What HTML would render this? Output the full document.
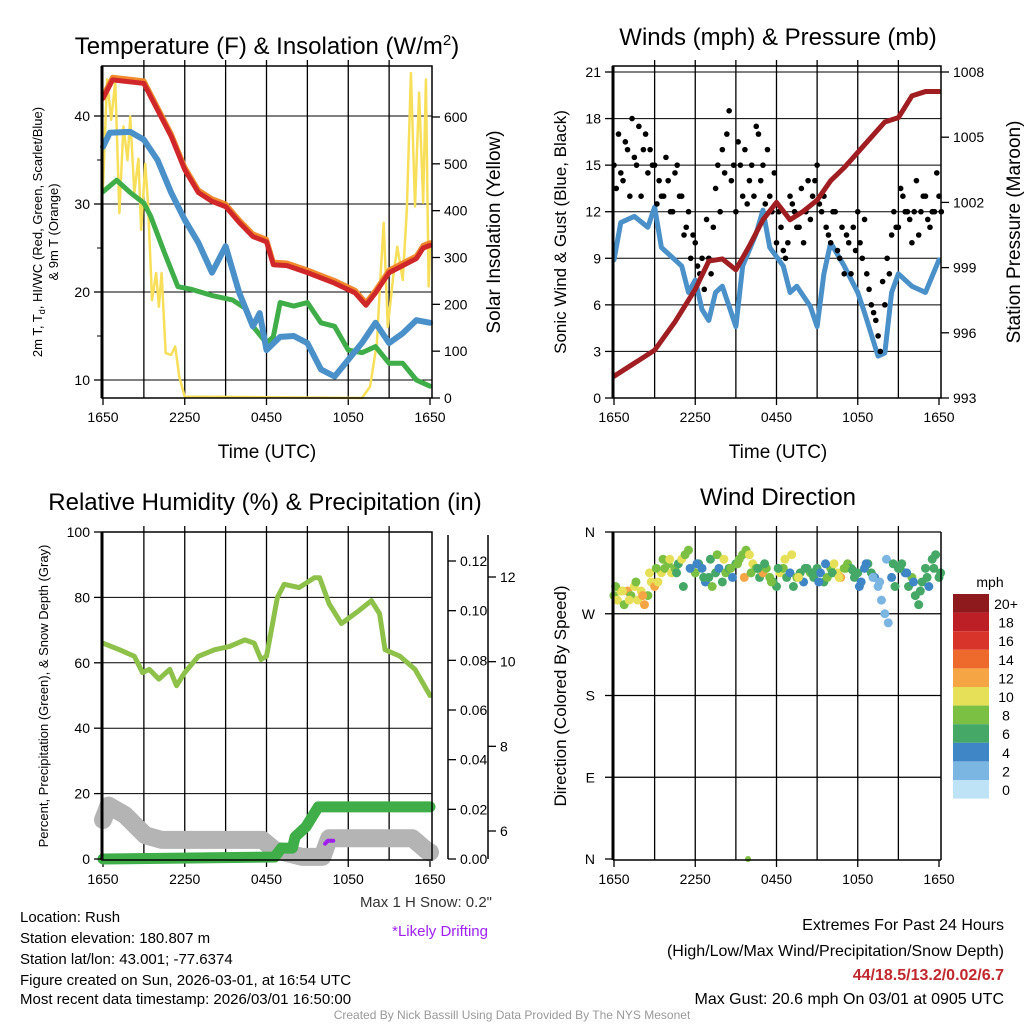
<!DOCTYPE html>
<html><head><meta charset="utf-8">
<style>
body{margin:0;background:#fff;}
svg{display:block;font-family:"Liberation Sans",Arial,sans-serif;}
</style></head>
<body>
<svg id="c" width="1024" height="1024" viewBox="0 0 1024 1024" xmlns="http://www.w3.org/2000/svg">
<g id="static">
<text x="267" y="54" font-size="24" text-anchor="middle">Temperature (F) &amp; Insolation (W/m<tspan dy="-9" font-size="15">2</tspan><tspan dy="9">)</tspan></text>
<text x="778" y="45" font-size="24" text-anchor="middle">Winds (mph) &amp; Pressure (mb)</text>
<text x="265" y="510" font-size="24" text-anchor="middle">Relative Humidity (%) &amp; Precipitation (in)</text>
<text x="778" y="505" font-size="24" text-anchor="middle">Wind Direction</text>
<text x="267" y="458" font-size="19" text-anchor="middle">Time (UTC)</text>
<text x="778" y="458" font-size="19" text-anchor="middle">Time (UTC)</text>
<g transform="translate(42,232) rotate(-90)"><text x="0" y="0" font-size="13" text-anchor="middle">2m T, T<tspan font-size="9" dy="3">d</tspan><tspan dy="-3">, HI/WC (Red, Green, Scarlet/Blue)</tspan></text><text x="0" y="16" font-size="13" text-anchor="middle">&amp; 9m T (Orange)</text></g>
<text transform="translate(500,232) rotate(-90)" font-size="19" text-anchor="middle">Solar Insolation (Yellow)</text>
<text transform="translate(566,232) rotate(-90)" font-size="17" text-anchor="middle">Sonic Wind &amp; Gust (Blue, Black)</text>
<text transform="translate(1020,232) rotate(-90)" font-size="19" text-anchor="middle">Station Pressure (Maroon)</text>
<text transform="translate(48,696) rotate(-90)" font-size="13" text-anchor="middle">Percent, Precipitation (Green), &amp; Snow Depth (Gray)</text>
<text transform="translate(566,696) rotate(-90)" font-size="17" text-anchor="middle">Direction (Colored By Speed)</text>
<text x="492" y="907" font-size="15" fill="#333" text-anchor="end">Max 1 H Snow: 0.2"</text>
<text x="488" y="936" font-size="15" fill="#a020f0" text-anchor="end">*Likely Drifting</text>
<g font-size="15">
<text x="20" y="922">Location: Rush</text>
<text x="20" y="943">Station elevation: 180.807 m</text>
<text x="20" y="964">Station lat/lon: 43.001; -77.6374</text>
<text x="20" y="985">Figure created on Sun, 2026-03-01, at 16:54 UTC</text>
<text x="20" y="1004">Most recent data timestamp: 2026/03/01 16:50:00</text>
</g>
<g font-size="16" text-anchor="end">
<text x="1004" y="930">Extremes For Past 24 Hours</text>
<text x="1004" y="956">(High/Low/Max Wind/Precipitation/Snow Depth)</text>
<text x="1004" y="980" fill="#c0282d" font-weight="bold">44/18.5/13.2/0.02/6.7</text>
<text x="1004" y="1004">Max Gust: 20.6 mph On 03/01 at 0905 UTC</text>
</g>
<text x="512" y="1019" font-size="12" fill="#999" text-anchor="middle">Created By Nick Bassill Using Data Provided By The NYS Mesonet</text>
<text x="990" y="587" font-size="14" text-anchor="middle">mph</text>
</g>
<g id="dyn"></g>
</svg>
<script>
// ---- data (hours since 1650 UTC) ----
const xTickLabels = ["1650","2250","0450","1050","1650"];
const tempHours = [0,0.7,3,4,5,6,7,8,9,10,11,12,12.5,13.5,15,17,18.5,19.3,20,21,22,23,23.5,24];
const tempRed = [42,44.1,43.7,40.7,37.7,33.9,31.3,30.3,29.7,27.9,26.3,25.7,23.1,23,22.2,21,19.9,18.5,19.9,22.2,23,23.8,25,25.3];
const wcHours = [0,0.5,2,3,4,5,6,7,8,9,10,11,11.5,12,13,14,15,16,17,18,19,20,21,22,23,24];
const windChill = [36.5,38.1,38.2,37.3,35,31.3,28.2,25.6,22.2,25.2,19.9,16.1,17.6,13.4,14.9,15,14.2,11.2,10.4,12.3,14.2,16.5,14.2,15.3,16.8,16.5];
const dewHours = [0,1,2,3,3.5,4.5,5.5,6.5,8,9.5,10.5,11,12,12.5,13,14,15,16,17,18,19,20,21,22,23,24];
const dewPoint = [31.4,32.7,31.3,30.1,28.6,24.5,20.6,20.3,19.6,19.1,18.1,16.1,14.2,14.9,18.8,18.4,18.8,16.5,16.1,13.4,13.1,13.8,11.9,11.9,10,9.3];
const solHours = [0,0.3,0.6,0.9,1.2,1.5,1.8,2,2.3,2.6,2.8,3.1,3.3,3.6,3.9,4.1,4.3,4.6,5,5.3,5.6,6,19,19.6,20.1,20.3,20.6,20.9,21.3,21.6,22,22.3,22.6,22.9,23.2,23.5,23.7,23.9,24];
const insolation = [451,680,594,675,395,580,508,601,438,511,359,500,417,209,267,195,267,96,92,110,45,3,0,24,117,224,374,152,259,323,252,402,694,409,652,417,680,238,320];
const windHours = [0,0.5,1.5,2.5,3,3.5,4.5,5,5.5,6,6.5,7,7.5,8,9,9.5,10.5,11,11.5,12.5,13,13.5,14.5,15,15.5,16,17,18,18.5,19.5,20,20.5,21,22,23,24];
const sonicWind = [8.9,11.3,11.7,11,12.3,9.7,8.9,8.5,6.8,7.6,5.7,5,6.8,7.2,4.6,8.5,10.6,12.1,9.7,8.5,6.8,7.2,5.9,4.6,8,10,8.5,6.8,5.5,2.7,2.9,6.8,8,7.2,6.8,8.9];
const gustA = [15,17,14,16,18,15,13,17,16,15,14,13,14,12,15,13,11,9,10,8,7,9,11,15,16,17,14,12,15,16,14,13,17,15,16,12,10,11,9,13,12,11,10,14,13,15,12,11,10,12,9,8,10,11,12,9,8,6,5,3,6,8,12,11,13,12,10,14,12,13,11,12,13];
const gustB = [13.5,14.5,16.5,13,15.5,17.5,16,14.5,15,12.5,13,15.5,12,14.5,13,10.5,12,10.5,8.5,9,11.5,8,13.5,12,14.5,18.5,15,16.5,13,12.5,15,17.5,14,12.5,13,14.5,12,9.5,10,12.5,11,13.5,12,11.5,14,12.5,13,10.5,12,9.5,11,10.5,8,9.5,10,11.5,7,5.5,4,7.5,9,10.5,11,13.5,12,11.5,12,10.5,13,11.5,12,14.5,12];
const presHours = [0,3,4.5,6,7,8,9,10,11,12,13,14,15,16,17,18,19,20,21,22,23,24];
const pressure = [994,995.2,996.5,998,999.3,999.4,998.9,1000,1001.2,1002,1001.2,1001.6,1002.1,1003,1003.6,1004.3,1005,1005.7,1005.9,1006.9,1007.1,1007.1];
const rhHours = [0,1.2,2.3,2.9,3.4,4.1,4.9,5.4,6,7,8.2,9.3,10.4,11.1,11.6,12,12.8,13.3,14.4,15.5,15.9,16.6,17.5,18.8,19.7,20.3,20.7,21.8,22.9,24];
const relHum = [66,64,62,57,58,55,58,53,57,62,64,65,67,66,61,62,80,84,83,86,86,78,72,76,79,75,64,62,58,50];
const snowHours = [0,0.4,1.6,3.1,4.3,11.7,12.6,14.6,16.1,16.6,22.7,23.9,24];
const snowDepth = [6.26,6.6,6.38,5.9,5.79,5.79,5.55,5.39,5.39,5.83,5.83,5.5,5.5];
const precipHours = [0,12.6,13.1,13.9,14.1,14.9,15.8,24];
const precip = [0,0.0008,0.0044,0.0044,0.0089,0.013,0.021,0.021];
const dirA = [290,285,295,280,295,290,300,285,295,280,290,305,300,305,315,320,325,315,320,325,330,335,340,320,315,325,320,305,310,300,315,320,305,315,320,310,325,330,335,340,335,325,320,310,315,320,310,305,300,315,320,310,315,300,310,315,305,320,315,310,320,315,305,310,320,325,315,310,320,325,320,310,315,305,320,325,315,310,300,285,270,260,310,300,320,325,315,300,310,290,280,305,320,300,330,335,310];
const speedA = [9,10,11,8,12,9,10,11,10,12,9,11,12,10,10,9,8,10,8,7,10,9,8,10,8,6,5,4,6,8,7,5,6,8,7,4,6,8,8,9,10,11,8,7,12,9,8,6,7,10,8,6,5,7,8,6,4,6,8,7,6,5,7,8,9,11,10,12,9,8,7,6,7,5,4,6,7,4,2,2,2,2,4,6,7,6,5,6,8,7,6,6,7,5,6,6,7];
const dirB = [300,295,285,305,290,315,320,330,330,315,300,320,325,310,330,335,330,320,325,310,315,320,325,305,320,330,335,310,320,315,305,325,315,310,320,318,300,325,310,305,330,325,320,315,305,295,310,320,315];
const speedB = [8,11,10,9,12,10,9,8,10,7,6,5,4,6,7,9,10,8,8,12,9,7,6,8,7,10,11,10,6,7,5,4,6,10,8,6,4,4,2,2,3,6,7,5,4,6,7,6,7];
const outlierHour = [9.9];
const outlierDir = [0];
const outlierSpeed = [8];
const cbLabels = ["20+","18","16","14","12","10","8","6","4","2","0"];
const cbColors = ["#8e1a1e","#bd1f26","#d8342a","#ee6a2c","#f6a545","#e6df58","#7cc043","#45a866","#3f86c6","#7bb5e2","#bfe3f6"];

const NS="http://www.w3.org/2000/svg";
const dyn=document.getElementById('dyn');
function mk(tag,attrs,parent){const e=document.createElementNS(NS,tag);for(const k in attrs)e.setAttribute(k,attrs[k]);(parent||dyn).appendChild(e);return e;}
function lin(d0,d1,r0,r1){return v=>r0+(v-d0)*(r1-r0)/(d1-d0);}
function speedColor(s){const i=Math.max(0,Math.min(10,Math.floor(s/2)));return cbColors[10-i];}

function frame(x0,x1,y0,y1,name){
  const g=mk('g',{});
  
  
  const X=lin(0,24,x0+1,x1-2);
  for(let h=3;h<24;h+=3){mk('line',{x1:X(h),x2:X(h),y1:y0-6,y2:y1,stroke:'#000','stroke-width':1.3},g);}
  xTickLabels.forEach((t,i)=>{const tx=mk('text',{x:X(i*6),y:y1+24,'font-size':14,'text-anchor':'middle'},g);tx.textContent=t;
    
    
    mk('line',{x1:X(i*6),x2:X(i*6),y1:y1,y2:y1+7,stroke:'#000','stroke-width':1.3},g);});
  return {g,X};
}
function polyline(xs,ys,X,Y,color,w,name,parent){
  const p=mk('polyline',{points:xs.map((h,i)=>X(h)+','+Y(ys[i])).join(' '),fill:'none',stroke:color,'stroke-width':w,'stroke-linejoin':'round','stroke-linecap':'round'},parent);
  
  
  return p;
}
function yTicks(vals,Y,x,side,fmt,g,len){
  vals.forEach(v=>{const dir=side==='left'?-1:1;
    mk('line',{x1:x,x2:x+dir*(len||8),y1:Y(v),y2:Y(v),stroke:'#000','stroke-width':1.3},g);
    const t=mk('text',{x:x+dir*12,y:Y(v)+5,'font-size':14,'text-anchor':side==='left'?'end':'start'},g);t.textContent=fmt(v);
    
    });
}

// ---- Panel 1: temperature ----
(function(){
  const x0=102,x1=432,y0=66,y1=398;
  const {g,X}=frame(x0,x1,y0,y1,'temperature-panel');
  const Y=lin(10,40,380,116), YS=lin(0,600,398,117);
  [10,20,30,40].forEach(v=>mk('line',{x1:x0,x2:x1,y1:Y(v),y2:Y(v),stroke:'#000','stroke-width':1},g));
  polyline(solHours,insolation,X,YS,'#f7df5a',2.5,'insolation-line',g);
  polyline(dewHours,dewPoint,X,Y,'#3fae49',5,'dewpoint-line',g);
  polyline(wcHours,windChill,X,Y,'#4a90c9',6,'windchill-line',g);
  polyline(tempHours,tempRed.map(v=>v+0.3),X,Y,'#f08a2c',5,'9m-temperature-line',g);
  polyline(tempHours,tempRed,X,Y,'#d0282a',5,'temperature-line',g);
  mk('rect',{x:x0,y:y0,width:x1-x0,height:y1-y0,fill:'none',stroke:'#000','stroke-width':1.5},g);
  mk('line',{x1:x0,x2:x0,y1:y0,y2:y1,stroke:'#000','stroke-width':3},g);
  yTicks([10,20,30,40],Y,x0,'left',v=>v,g);
  [15,25,35].forEach(v=>mk('line',{x1:x0,x2:x0-5,y1:Y(v),y2:Y(v),stroke:'#000'},g));
  yTicks([0,100,200,300,400,500,600],YS,x1,'right',v=>v,g);
})();

// ---- Panel 2: winds ----
(function(){
  const x0=613,x1=941,y0=66,y1=398;
  const {g,X}=frame(x0,x1,y0,y1,'winds-panel');
  const Y=lin(0,21,398,72), YP=lin(993,1008,398,72);
  [3,6,9,12,15,18,21].forEach(v=>mk('line',{x1:x0,x2:x1,y1:Y(v),y2:Y(v),stroke:'#000','stroke-width':1},g));
  polyline(windHours,sonicWind,X,Y,'#4a90c9',5,'sonic-wind-line',g);
  gustA.forEach((v,i)=>{const c=mk('circle',{cx:X(i/3),cy:Y(v),r:2.8,fill:'#000'},g);
    
    });
  gustB.forEach((v,i)=>{const c=mk('circle',{cx:X(i/3+0.17),cy:Y(v),r:2.8,fill:'#000'},g);
    
    });
  polyline(presHours,pressure,X,YP,'#a01e22',5,'pressure-line',g);
  mk('rect',{x:x0,y:y0,width:x1-x0,height:y1-y0,fill:'none',stroke:'#000','stroke-width':1.5},g);
  mk('line',{x1:x0,x2:x0,y1:y0,y2:y1,stroke:'#000','stroke-width':3},g);
  yTicks([0,3,6,9,12,15,18,21],Y,x0,'left',v=>v,g);
  yTicks([993,996,999,1002,1005,1008],YP,x1,'right',v=>v,g);
})();

// ---- Panel 3: humidity ----
(function(){
  const x0=102,x1=432,y0=532,y1=860;
  const {g,X}=frame(x0,x1,y0,y1,'humidity-panel');
  const Y=lin(0,100,859,532), YPr=lin(0,0.12,859,561), YSn=lin(6,12,831,577);
  [20,40,60,80].forEach(v=>mk('line',{x1:x0,x2:x1,y1:Y(v),y2:Y(v),stroke:'#000','stroke-width':1},g));
  polyline(snowHours,snowDepth,X,YSn,'#b4b4b4',18,'snow-depth-line',g);
  polyline(rhHours,relHum,X,Y,'#8dc14a',5,'humidity-line',g);
  polyline(precipHours,precip,X,YPr,'#3fae49',11,'precipitation-line',g);
  polyline([16.3,16.5,16.9],[5.7,5.77,5.77],X,YSn,'#a020f0',4,'drifting-line',g);
  mk('rect',{x:x0,y:y0,width:x1-x0,height:y1-y0,fill:'none',stroke:'#000','stroke-width':1.5},g);
  mk('line',{x1:x0,x2:x0,y1:y0,y2:y1,stroke:'#000','stroke-width':3},g);
  yTicks([0,20,40,60,80,100],Y,x0,'left',v=>v,g);
  mk('line',{x1:448,x2:448,y1:535,y2:859,stroke:'#000','stroke-width':1.5},g);
  yTicks([0,0.02,0.04,0.06,0.08,0.10,0.12],YPr,448,'right',v=>v.toFixed(2),g);
  mk('line',{x1:488,x2:488,y1:535,y2:859,stroke:'#000','stroke-width':1.5},g);
  yTicks([6,8,10,12],YSn,488,'right',v=>v,g);
})();

// ---- Panel 4: wind direction ----
(function(){
  const x0=613,x1=941,y0=532,y1=860;
  const {g,X}=frame(x0,x1,y0,y1,'direction-panel');
  const Y=lin(0,360,859,532);
  [90,180,270,360].forEach(v=>mk('line',{x1:x0,x2:x1,y1:Y(v),y2:Y(v),stroke:'#000','stroke-width':1.3},g));
  dirA.forEach((d,i)=>{const c=mk('circle',{cx:X(i*0.25),cy:Y(d),r:4.5,fill:speedColor(speedA[i])},g);
    
    });
  dirB.forEach((d,i)=>{const c=mk('circle',{cx:X(i*0.5+0.12),cy:Y(d),r:4.5,fill:speedColor(speedB[i])},g);
    
    });
  outlierHour.forEach((h,i)=>{const c=mk('circle',{cx:X(h),cy:Y(outlierDir[i]),r:3,fill:speedColor(outlierSpeed[i])},g);
    
    });
  mk('line',{x1:x0,x2:x0,y1:y0,y2:y1,stroke:'#000','stroke-width':3},g);
  mk('line',{x1:x0,x2:x1,y1:y1,y2:y1,stroke:'#000','stroke-width':1.5},g);
  mk('line',{x1:x1,x2:x1,y1:y0,y2:y1,stroke:'#000','stroke-width':1.5},g);
  const lbl=["N","E","S","W","N"];
  [0,90,180,270,360].forEach((v,i)=>{mk('line',{x1:x0,x2:x0-8,y1:Y(v),y2:Y(v),stroke:'#000','stroke-width':1.3},g);
    const t=mk('text',{x:x0-18,y:Y(v)+5,'font-size':14,'text-anchor':'end'},g);t.textContent=lbl[i];
    
    });
  const cb=mk('g',{});
  
  
  cbColors.forEach((c,i)=>{mk('rect',{x:953,y:594+i*18.6,width:36,height:18.6,fill:c},cb);
    const t=mk('text',{x:1006,y:594+i*18.6+15,'font-size':14,'text-anchor':'middle'},cb);t.textContent=cbLabels[i];
    
    });
})();
</script>
</body></html>
